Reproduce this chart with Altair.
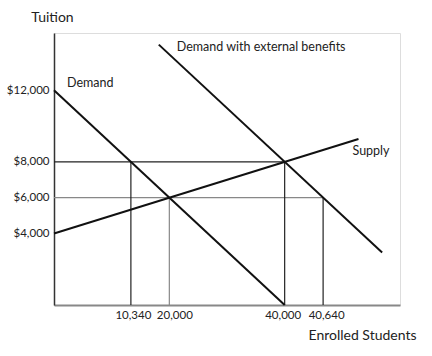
import altair as alt
import pandas as pd

# --- data (model units) ---
demand_q = [0, 40000]
demand_p = [12000, 0]
supply_q = [0, 52800]
supply_p = [4000, 9280]
ext_q = [18170, 56900]
ext_p = [14550, 2930]

# guide lines
dark_h_y = [8000]
dark_h_x2 = [40000]
gray_h_y = [6000]
gray_h_x2 = [46667]
dark_v_x = [13333, 40000, 46667]
dark_v_y2 = [8000, 8000, 6000]
gray_v_x = [20000]
gray_v_y2 = [6000]

x_tick_pos = [13333, 20000, 40000, 46667]
x_tick_lbl = ["10,340", "20,000", "40,000", "40,640"]
y_tick_pos = [4000, 6000, 8000, 12000]

FONT = "Lato"
TXT = "#222"

xs = alt.Scale(domain=[0, 60000], nice=False, zero=True)
ys = alt.Scale(domain=[0, 15200], nice=False, zero=True)

expr = "''"
for p, l in reversed(list(zip(x_tick_pos, x_tick_lbl))):
    expr = f"datum.value == {p} ? '{l}' : ({expr})"

label_shift = {
    "condition": [
        {"test": "datum.value == 20000", "value": 5},
        {"test": "datum.value == 40000", "value": -2},
        {"test": "datum.value == 46667", "value": 3},
    ],
    "value": 2,
}

x_axis = alt.Axis(values=x_tick_pos, labelExpr=expr, grid=False, ticks=False,
                  domainColor="#888", domainWidth=2, labelPadding=4,
                  labelOffset=label_shift, labelOverlap=False,
                  labelFont=FONT, labelFontSize=11.5, labelColor=TXT,
                  title="Enrolled Students", titleFont=FONT, titleFontSize=14,
                  titleFontWeight="normal", titleColor=TXT,
                  titleX=308, titleY=30, titleAlign="center", titleBaseline="middle")
y_axis = alt.Axis(values=y_tick_pos, format="$,.0f", grid=False, ticks=False,
                  domainColor="#333", domainWidth=1.5, labelPadding=5,
                  labelFont=FONT, labelFontSize=11.5, labelColor=TXT,
                  title="Tuition", titleFont=FONT, titleFontSize=14,
                  titleFontWeight="normal", titleColor=TXT, titleAngle=0,
                  titleX=-2, titleY=-16, titleAlign="center", titleBaseline="middle")

def line_df(q, p, name):
    return pd.DataFrame({"q": q, "p": p, "name": name})

dem = line_df(demand_q, demand_p, "Demand")
sup = line_df(supply_q, supply_p, "Supply")
ext = line_df(ext_q, ext_p, "Demand with external benefits")

base_axes = alt.Chart(dem).mark_line(stroke="#111", strokeWidth=2).encode(
    x=alt.X("q:Q", scale=xs, axis=x_axis),
    y=alt.Y("p:Q", scale=ys, axis=y_axis),
)

def line(df):
    return alt.Chart(df).mark_line(stroke="#111", strokeWidth=2).encode(
        x=alt.X("q:Q", scale=xs), y=alt.Y("p:Q", scale=ys))

dh = pd.DataFrame({"y": dark_h_y, "x2": dark_h_x2, "x": [0] * len(dark_h_y)})
gh = pd.DataFrame({"y": gray_h_y, "x2": gray_h_x2, "x": [0] * len(gray_h_y)})
dv = pd.DataFrame({"x": dark_v_x, "y2": dark_v_y2, "y": [0] * len(dark_v_x)})
gv = pd.DataFrame({"x": gray_v_x, "y2": gray_v_y2, "y": [0] * len(gray_v_x)})

def hrule(df, color):
    return alt.Chart(df).mark_rule(stroke=color, strokeWidth=1.2).encode(
        x=alt.X("x:Q", scale=xs), x2="x2:Q", y=alt.Y("y:Q", scale=ys))

def vrule(df, color):
    return alt.Chart(df).mark_rule(stroke=color, strokeWidth=1.2).encode(
        x=alt.X("x:Q", scale=xs), y=alt.Y("y:Q", scale=ys), y2="y2:Q")

def label(df, idx, dx, dy, align="left"):
    return alt.Chart(df.iloc[[idx]]).mark_text(
        align=align, baseline="middle", dx=dx, dy=dy, font=FONT, fontSize=12.5, color=TXT
    ).encode(x=alt.X("q:Q", scale=xs), y=alt.Y("p:Q", scale=ys), text="name:N")

chart = alt.layer(
    hrule(gh, "#888"), vrule(gv, "#888"),
    hrule(dh, "#222"), vrule(dv, "#222"),
    base_axes, line(sup), line(ext),
    label(dem, 0, 13, -7),
    label(sup, 1, -6, 12),
    label(ext, 0, 18, 2),
).properties(
    width=346, height=272,
    autosize=alt.AutoSizeParams(type="none"),
    padding={"left": 54, "top": 33, "right": 32, "bottom": 51},
).configure_view(stroke=None).configure(background="white")

chart.save("out.html", embed_options={"renderer": "svg", "actions": False})
